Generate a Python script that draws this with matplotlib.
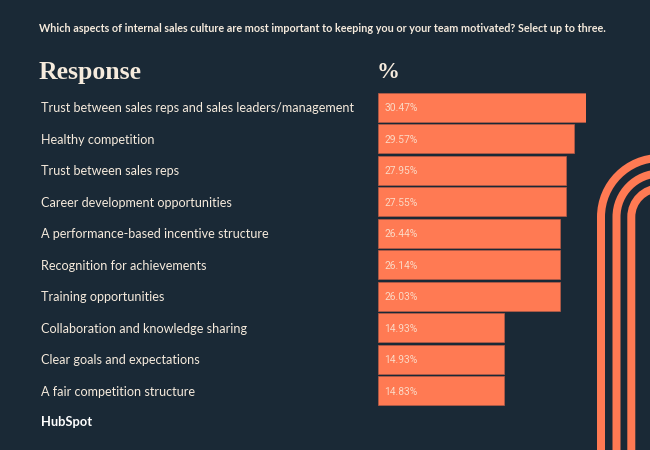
import matplotlib
matplotlib.use("Agg")
import matplotlib.pyplot as plt
from matplotlib.path import Path
from matplotlib.patches import PathPatch

question = "Which aspects of internal sales culture are most important to keeping you or your team motivated? Select up to three."
header_left = "Response"
header_right = "%"
brand = "HubSpot"
responses = [
    "Trust between sales reps and sales leaders/management",
    "Healthy competition",
    "Trust between sales reps",
    "Career development opportunities",
    "A performance-based incentive structure",
    "Recognition for achievements",
    "Training opportunities",
    "Collaboration and knowledge sharing",
    "Clear goals and expectations",
    "A fair competition structure",
]
percent_labels = [30.47, 29.57, 27.95, 27.55, 26.44, 26.14, 26.03, 14.93, 14.93, 14.83]
# Bar lengths as drawn in the picture (the reference's bars are not proportional
# to their printed labels), on a scale where the longest bar equals its label.
drawn_lengths = [30.47, 28.71, 27.61, 27.61, 26.66, 26.66, 26.66, 18.46, 18.46, 18.46]

BG = "#1a2936"
ORANGE = "#ff7a53"
CREAM = "#f6ebdd"
W, H = 650, 450

fig = plt.figure(figsize=(W / 100, H / 100), dpi=100, facecolor=BG)
bgax = fig.add_axes([0, 0, 1, 1])
bgax.set_xlim(0, W)
bgax.set_ylim(H, 0)
bgax.axis("off")


def arc_band(radius):
    cx, cy = 660, 217
    k = 0.5523 * radius
    verts = [(cx - radius, H + 5), (cx - radius, cy),
             (cx - radius, cy - k), (cx - k, cy - radius), (cx, cy - radius)]
    codes = [Path.MOVETO, Path.LINETO, Path.CURVE4, Path.CURVE4, Path.CURVE4]
    return PathPatch(Path(verts, codes), fill=False, edgecolor=ORANGE, lw=8 * 0.72, capstyle="butt")


for r in (59, 43.5, 28.7):
    bgax.add_patch(arc_band(r))
bgax.axhline(449.5, color="#6f7c85", lw=0.72)

bgax.text(39, 28.5, question, color=CREAM, fontsize=7.75, family="Lato", weight="bold", va="center", ha="left")
bgax.text(39, 73, header_left, color=CREAM, fontsize=18.5, family="Liberation Serif", weight="bold", va="center", ha="left")
bgax.text(376.5, 72.5, header_right, color=CREAM, fontsize=16.5, family="Liberation Serif", weight="bold", va="center", ha="left")
bgax.text(41.5, 421.5, brand, color="white", fontsize=9.3, family="Lato", weight="bold", va="center", ha="left")

# bar axes: x from 378 to 586 px, rows 31.5 px apart
x0, x1, y0, y1 = 378, 586, 91.5, 406.5
ax = fig.add_axes([x0 / W, 1 - y1 / H, (x1 - x0) / W, (y1 - y0) / H])
ax.patch.set_alpha(0)
positions = list(range(len(responses)))
ax.barh(positions, drawn_lengths, height=0.905, color=ORANGE, edgecolor="#b85c48", linewidth=0.5)
ax.set_xlim(0, 30.47)
ax.set_ylim(len(responses) - 0.5, -0.5)
ax.set_yticks(positions, responses, family="Lato", fontsize=9.05, color=CREAM)
ax.tick_params(axis="y", length=0, pad=337 * 0.72, labelleft=True)
for t in ax.get_yticklabels():
    t.set_ha("left")
ax.xaxis.set_visible(False)
for s in ax.spines.values():
    s.set_visible(False)
for p, v in zip(positions, percent_labels):
    ax.text(0.95, p + 0.03, f"{v:.2f}%", color="#fbd9c5", fontsize=7.4, family="Roboto", va="center", ha="left")

fig.savefig("out.png", dpi=100, facecolor=BG)
